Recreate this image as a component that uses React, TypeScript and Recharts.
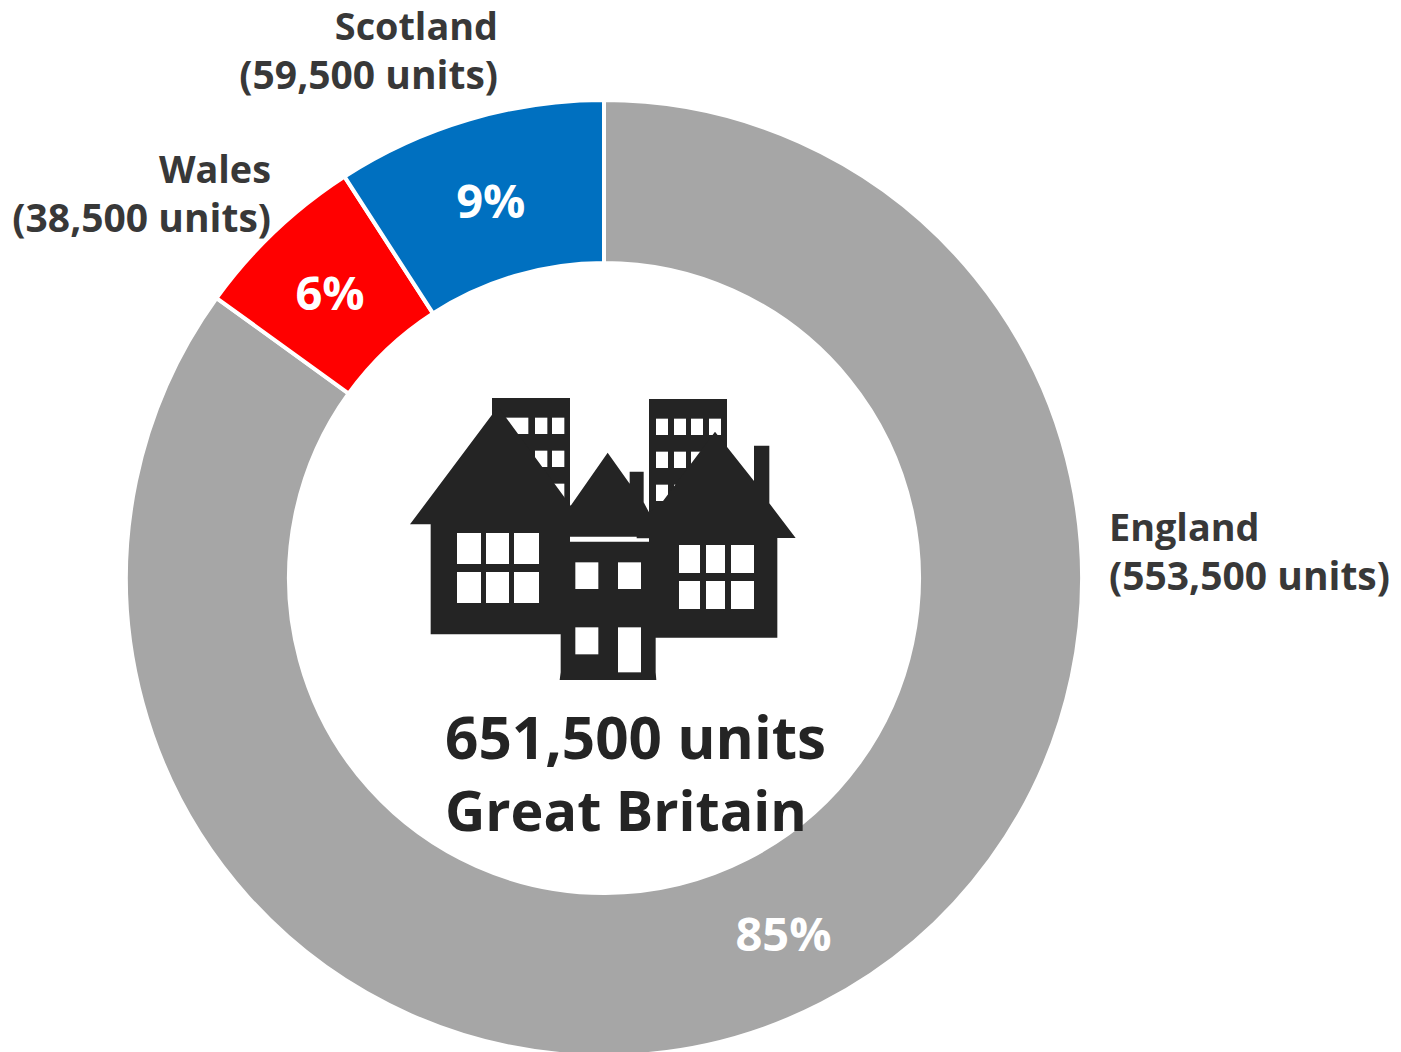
import { Pie, PieChart, Cell } from 'recharts'

const regions = ['England', 'Wales', 'Scotland']
const units = [553500, 38500, 59500]
const shares = ['85%', '6%', '9%']
const unitLabels = ['(553,500 units)', '(38,500 units)', '(59,500 units)']
const colors = ['#a6a6a6', '#ff0000', '#0070c0']
const totalLabel = '651,500 units'
const totalName = 'Great Britain'

const rows = regions.map((name, i) => ({ name, units: units[i] }))
const font = '"Open Sans", sans-serif'
const R = Math.PI / 180

// where the region captions sit, relative to the chart
const captionAt = [
  { x: 1109, y: 541, gap: 49, anchor: 'start' },
  { x: 271, y: 183, gap: 49, anchor: 'end' },
  { x: 498, y: 40, gap: 49, anchor: 'end' },
]

function SliceLabel(p: any) {
  const r = (p.innerRadius + p.outerRadius) / 2
  const x = p.cx + r * Math.cos(-p.midAngle * R)
  const y = p.cy + r * Math.sin(-p.midAngle * R)
  const c = captionAt[p.index]
  return (
    <g style={{ fontFamily: font, fontWeight: 700 }}>
      <text x={x - 1} y={y + 2} fill="#fff" fontSize={47} textAnchor="middle" dominantBaseline="central">{shares[p.index]}</text>
      <text x={c.x} y={c.y} fill="#383838" fontSize={37.8} textAnchor={c.anchor}>{regions[p.index]}</text>
      <text x={c.x} y={c.y + c.gap} fill="#383838" fontSize={39} textAnchor={c.anchor}>{unitLabels[p.index]}</text>
    </g>
  )
}

function Houses() {
  const dark = '#242424'
  const win = (x1: number, y1: number, x2: number, y2: number) => (
    <rect key={`${x1}-${y1}`} x={x1} y={y1} width={x2 - x1} height={y2 - y1} fill="#fff" />
  )
  return (
    <svg width={410} height={305} viewBox="0 0 1230 915" style={{ position: 'absolute', left: 400, top: 385 }}>
      <rect x={276} y={39} width={234} height={340} fill={dark} />
      <rect x={747} y={42} width={234} height={340} fill={dark} />
      {win(300, 98, 385, 147)}
      {[405, 456].map((x) => win(x, 98, x + 37, 147))}
      {[345, 405, 456].map((x) => win(x, 197, x + 37, 246))}
      {[405, 456].map((x) => win(x, 296, x + 37, 345))}
      {[768, 822, 873, 927].map((x) => win(x, 101, x + 36, 150))}
      {[768, 822, 873, 927].map((x) => win(x, 200, x + 36, 249))}
      {[768, 822, 873].map((x) => win(x, 299, x + 36, 348))}
      <path
        fill={dark}
        d="M294 65 L512 362 L623 203 L689 296 L689 260 L731 260 L731 352 L747 382 L780 360 L945 140 L1062 288 L1062 182 L1108 182 L1108 355 L1187 459 L1132 459 L1132 758 L767 758 L767 862 L769 885 L479 885 L482 862 L482 748 L92 748 L92 418 L30 418 Z"
      />
      <path fill="#fff" d="M510 455 L710 455 L710 460 L747 460 L747 470 L510 470 Z" />
      {[171, 258, 342].map((x, i) => win(x, 444, [243, 327, 417][i], 537))}
      {[171, 258, 342].map((x, i) => win(x, 561, [243, 327, 417][i], 654))}
      {[837, 918, 993].map((x, i) => win(x, 480, [900, 975, 1062][i], 564))}
      {[837, 918, 993].map((x, i) => win(x, 588, [900, 975, 1062][i], 672))}
      {win(526, 532, 595, 612)}
      {win(654, 532, 723, 612)}
      {win(526, 727, 595, 808)}
      {win(654, 727, 723, 862)}
    </svg>
  )
}

export default function App() {
  return (
    <div style={{ position: 'absolute', left: 0, top: 0, width: 1401, height: 1052, overflow: 'hidden', background: '#fff' }}>
      <PieChart width={1401} height={1052} margin={{ top: 0, right: 0, bottom: 0, left: 0 }}>
        <Pie
          data={rows}
          dataKey="units"
          nameKey="name"
          cx={604}
          cy={578}
          innerRadius={315}
          outerRadius={478}
          startAngle={90}
          endAngle={-270}
          stroke="#fff"
          strokeWidth={4}
          label={SliceLabel}
          labelLine={false}
          isAnimationActive={false}
        >
          {rows.map((r, i) => (
            <Cell key={r.name} fill={colors[i]} />
          ))}
        </Pie>
      </PieChart>
      <Houses />
      <div style={{ position: 'absolute', left: 445, top: 701, fontFamily: font, fontWeight: 700, lineHeight: '72px', color: '#242424', whiteSpace: 'nowrap' }}>
        <div style={{ fontSize: 58.4 }}>{totalLabel}</div>
        <div style={{ fontSize: 55.7 }}>{totalName}</div>
      </div>
    </div>
  )
}
